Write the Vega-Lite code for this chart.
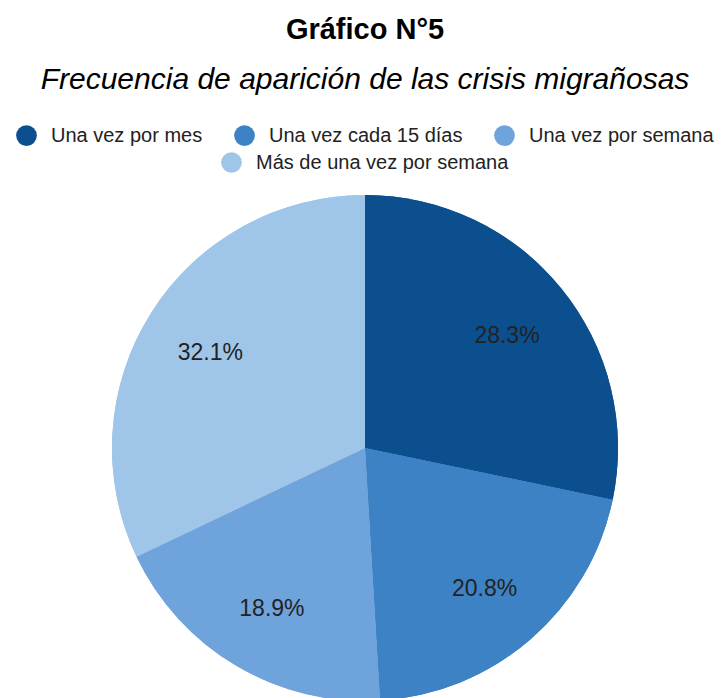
{
  "$schema": "https://vega.github.io/schema/vega-lite/v6.json",
  "width": 730,
  "height": 506,
  "padding": {"left": 0, "right": 0, "top": 16, "bottom": 0},
  "autosize": {"type": "pad"},
  "background": "white",
  "title": {
    "text": "Gráfico N°5",
    "subtitle": "Frecuencia de aparición de las crisis migrañosas",
    "font": "Liberation Sans",
    "fontSize": 29,
    "fontWeight": "bold",
    "color": "#000000",
    "subtitleFont": "Liberation Sans",
    "subtitleFontSize": 30,
    "subtitleFontStyle": "italic",
    "subtitleColor": "#000000",
    "subtitlePadding": 20,
    "anchor": "middle",
    "offset": 30
  },
  "data": {
    "values": [
      {"categoria": "Una vez por mes", "porcentaje": 28.3, "etiqueta": "28.3%", "orden": 1},
      {"categoria": "Una vez cada 15 días", "porcentaje": 20.8, "etiqueta": "20.8%", "orden": 2},
      {"categoria": "Una vez por semana", "porcentaje": 18.9, "etiqueta": "18.9%", "orden": 3},
      {"categoria": "Más de una vez por semana", "porcentaje": 32.1, "etiqueta": "32.1%", "orden": 4}
    ]
  },
  "encoding": {
    "theta": {"field": "porcentaje", "type": "quantitative", "stack": true},
    "order": {"field": "orden", "type": "ordinal"}
  },
  "layer": [
    {
      "mark": {"type": "arc", "radius": 253},
      "encoding": {
        "color": {
          "field": "categoria",
          "type": "nominal",
          "scale": {
            "domain": ["Una vez por mes", "Una vez cada 15 días", "Una vez por semana", "Más de una vez por semana"],
            "range": ["#0b4f8f", "#3d82c4", "#6fa3db", "#9fc5e8"]
          },
          "legend": {"values": ["Una vez por mes", "Una vez cada 15 días", "Una vez por semana"], "title": null, "orient": "top"}
        }
      }
    },
    {
      "mark": {"type": "arc", "radius": 253},
      "encoding": {
        "fill": {
          "field": "categoria",
          "type": "nominal",
          "scale": {
            "domain": ["Más de una vez por semana", "Una vez por mes", "Una vez cada 15 días", "Una vez por semana"],
            "range": ["#9fc5e8", "#0b4f8f", "#3d82c4", "#6fa3db"]
          },
          "legend": {"values": ["Más de una vez por semana"], "title": null, "orient": "top"}
        }
      }
    },
    {
      "mark": {"type": "text", "radius": 183, "dy": 3, "font": "Liberation Sans", "fontSize": 23, "color": "#222222"},
      "encoding": {
        "text": {"field": "etiqueta", "type": "nominal"},
        "detail": {"field": "categoria"}
      }
    }
  ],
  "config": {
    "view": {"stroke": null},
    "legend": {
      "labelFont": "Liberation Sans",
      "labelFontSize": 20,
      "labelColor": "#222222",
      "labelLimit": 400,
      "symbolType": "circle",
      "symbolSize": 430,
      "symbolStrokeWidth": 0,
      "direction": "horizontal",
      "columnPadding": 31,
      "labelOffset": 14,
      "offset": 22,
      "layout": {"top": {"anchor": "middle", "direction": "vertical", "center": true, "margin": 6}}
    }
  }
}
